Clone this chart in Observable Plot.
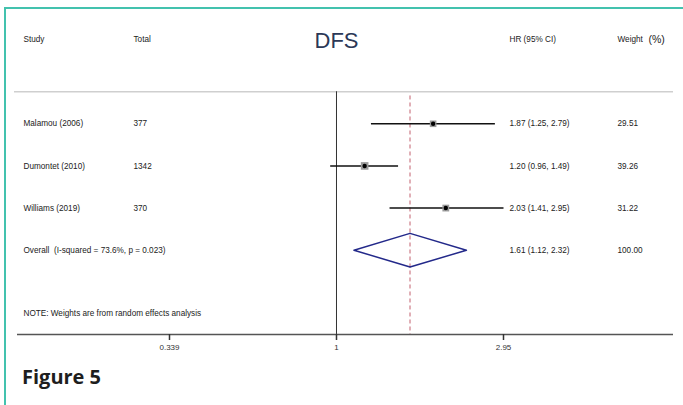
<!DOCTYPE html>
<html>
<head>
<meta charset="utf-8">
<script src="https://cdn.jsdelivr.net/npm/d3@7"></script>
<script src="https://cdn.jsdelivr.net/npm/@observablehq/plot@0.6"></script>
<style>
  html, body { margin: 0; padding: 0; background: #fff; }
  #wrap { position: relative; width: 683px; height: 405px; overflow: hidden; }
  #frame { position: absolute; left: 4px; top: 7px; right: -4px; bottom: -4px;
           border-left: 2px solid #43c2ae; border-top: 2px solid #43c2ae; }
  #chart { position: absolute; left: 0; top: 0; }
  #fig { position: absolute; left: 22px; top: 365px; font-family: "Open Sans", sans-serif;
         font-weight: 700; font-size: 20px; line-height: 24px; color: #1e1e1e; }
</style>
</head>
<body>
<div id="wrap">
  <div id="frame"></div>
  <div id="chart"></div>
  <div id="fig">Figure 5</div>
</div>
<script>
// ---- data ----
const studies = ["Malamou (2006)", "Dumontet (2010)", "Williams (2019)"];
const totals = [377, 1342, 370];
const hr = [1.87, 1.20, 2.03];
const lower = [1.25, 0.96, 1.41];
const upper = [2.79, 1.49, 2.95];
const weights = [29.51, 39.26, 31.22];
const overallLabel = "Overall  (I-squared = 73.6%, p = 0.023)";
const overallHR = 1.61, overallLower = 1.12, overallUpper = 2.32, overallWeight = 100.00;
const xTicks = [0.339, 1, 2.95];
const title = "DFS";
const headers = ["Study", "Total", "HR (95% CI)", "Weight"];
const note = "NOTE: Weights are from random effects analysis";

// ---- tables ----
const rows = studies.map((s, i) => ({
  study: s, total: totals[i], hr: hr[i], lo: lower[i], hi: upper[i], w: weights[i], row: i,
  ci: `${hr[i].toFixed(2)} (${lower[i].toFixed(2)}, ${upper[i].toFixed(2)})`
}));
const overallRow = studies.length;
const overall = {
  study: overallLabel, hr: overallHR, lo: overallLower, hi: overallUpper, w: overallWeight, row: overallRow,
  ci: `${overallHR.toFixed(2)} (${overallLower.toFixed(2)}, ${overallUpper.toFixed(2)})`
};
const allRows = [...rows, overall];
const dh = 0.4;
const diamond = [
  {x: overallLower, y: overallRow}, {x: overallHR, y: overallRow - dh},
  {x: overallUpper, y: overallRow}, {x: overallHR, y: overallRow + dh},
  {x: overallLower, y: overallRow}
];
const headerRow = -2, sepRow = -0.76, noteRow = overallRow + 1.5, axisRow = overallRow + 2;

const font = "Liberation Sans, Arial, sans-serif";
const txt = {fontFamily: font, fontSize: 8.2, fill: "#222", textAnchor: "start", frameAnchor: "left"};

const chart = Plot.plot({
  width: 683, height: 360,
  marginLeft: 0, marginRight: 0, marginTop: 0, marginBottom: 26,
  x: {type: "log", domain: [xTicks[0], xTicks[2]], range: [169, 503], axis: null},
  y: {domain: [headerRow, axisRow], range: [39, 334], axis: null},
  r: {type: "sqrt", domain: [0, d3.max(weights)], range: [0, 4.3]},
  style: {fontFamily: font, background: "transparent"},
  marks: [
    // separator & axis lines
    Plot.ruleY([sepRow], {stroke: "#cfcfcf", strokeWidth: 1.5, insetLeft: 14, insetRight: 10}),
    // null line & overall line
    Plot.ruleX([1], {y1: sepRow, y2: axisRow, stroke: "#333", strokeWidth: 1}),
    Plot.ruleX([overallHR], {y1: sepRow + 0.1, y2: axisRow, stroke: "#c2606e", strokeWidth: 1, strokeDasharray: "4,3"}),
    Plot.ruleY([axisRow], {stroke: "#555", strokeWidth: 1.5, insetLeft: 17, insetRight: 10}),
    Plot.axisX(xTicks, {tickFormat: d => String(d), tickSize: 6, tickPadding: 4,
                fontSize: 8, stroke: "#333", strokeWidth: 1.5, fill: "#333", label: null}),
    // CIs
    Plot.link(rows, {x1: "lo", x2: "hi", y1: "row", y2: "row", stroke: "#111", strokeWidth: 1.5}),
    Plot.dot(rows, {x: "hr", y: "row", r: "w", symbol: "square", fill: "#9a9a9a", stroke: "none"}),
    Plot.dot(rows, {x: "hr", y: "row", r: 2.2, fill: "#000", stroke: "none"}),
    Plot.line(diamond, {x: "x", y: "y", stroke: "#23298a", strokeWidth: 1.5, fill: "none", curve: "linear"}),
    // header
    Plot.text([headers[0]], {...txt, y: [headerRow], dx: 23, text: d => d}),
    Plot.text([headers[1]], {...txt, y: [headerRow], dx: 133, text: d => d}),
    Plot.text([headers[2]], {...txt, y: [headerRow], dx: 509, text: d => d}),
    Plot.text([headers[3]], {...txt, y: [headerRow], dx: 617, text: d => d}),
    Plot.text(["(%)"], {...txt, fontSize: 10.5, y: [headerRow], dx: 648, text: d => d}),
    Plot.text([title], {fontFamily: font, fontSize: 22, fill: "#2b3857", y: [headerRow], x: [1], dy: 1, text: d => d}),
    // rows
    Plot.text(allRows, {...txt, y: "row", dx: 23, text: "study"}),
    Plot.text(rows, {...txt, y: "row", dx: 133, text: d => String(d.total)}),
    Plot.text(allRows, {...txt, y: "row", dx: 509, text: "ci"}),
    Plot.text(allRows, {...txt, y: "row", dx: 617, text: d => d.w.toFixed(2)}),
    Plot.text([note], {...txt, y: [noteRow], dx: 23, text: d => d})
  ]
});
document.getElementById("chart").appendChild(chart);
</script>
</body>
</html>
